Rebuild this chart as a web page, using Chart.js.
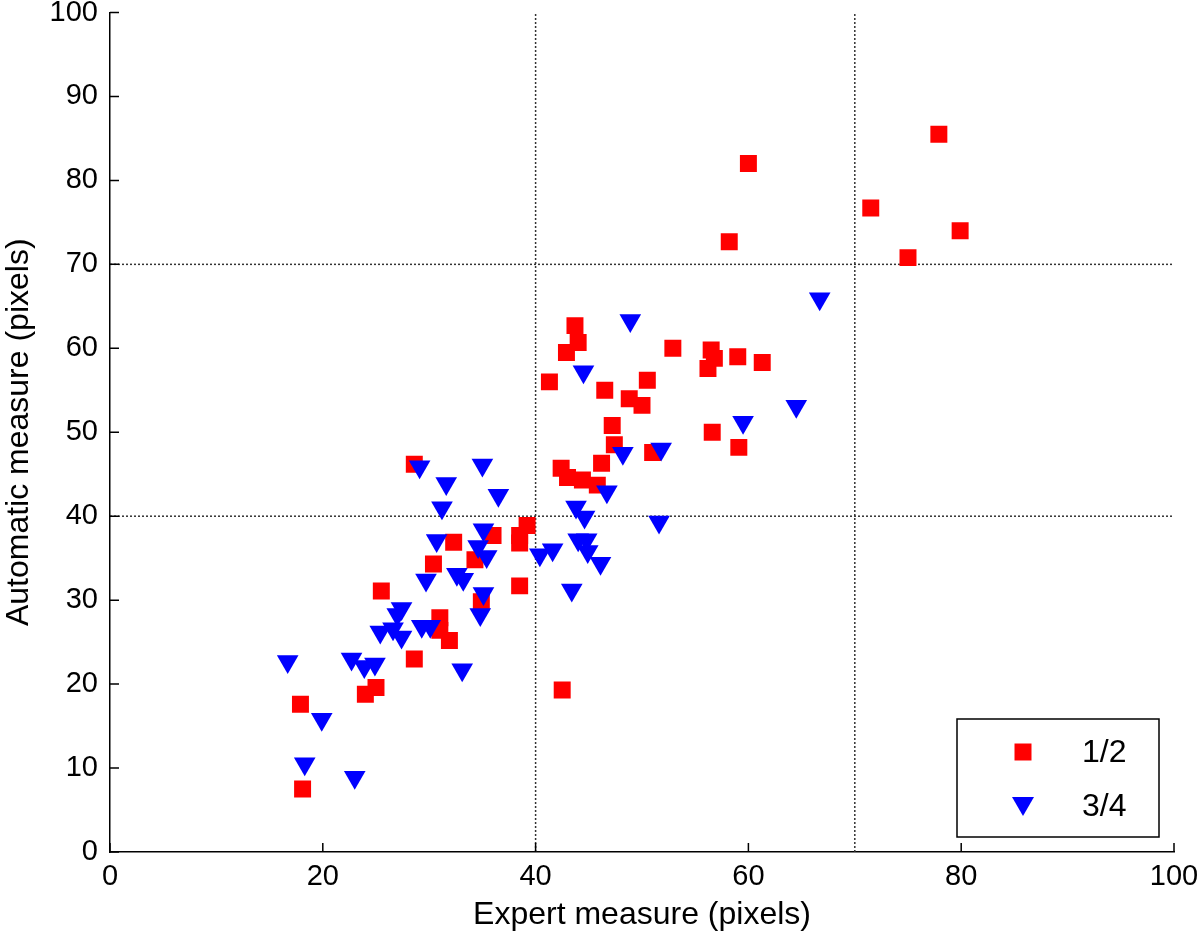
<!DOCTYPE html>
<html>
<head>
<meta charset="utf-8">
<script src="https://cdn.jsdelivr.net/npm/chart.js@4.4.1/dist/chart.umd.min.js"></script>
<style>
  html, body { margin: 0; padding: 0; background: #fff; }
  #wrap { width: 1200px; height: 938px; }
</style>
</head>
<body>
<div id="wrap"><canvas id="ch"></canvas></div>
<script>
// series 1/2 (red squares)
const redX = [17.9, 18.1, 24.0, 25.0, 25.5, 28.6, 28.6, 30.4, 31.0, 31.0, 31.9, 32.3, 34.3, 34.9, 36.0,
  38.5, 38.5, 39.2, 38.5, 42.4, 43.0, 44.4, 45.8, 46.2, 42.5, 43.7, 44.0, 42.9, 41.3, 46.5,
  50.5, 48.8, 50.0, 52.9, 56.5, 56.8, 56.2, 59.0, 61.3, 47.2, 47.4, 51.0, 56.6, 59.1, 60.0,
  58.2, 71.5, 75.0, 77.9, 79.9];
const redY = [17.6, 7.5, 18.8, 19.6, 31.1, 46.2, 23.0, 34.3, 27.9, 26.4, 25.2, 36.9, 34.8, 29.8, 37.7,
  36.8, 37.7, 38.9, 31.7, 45.7, 44.6, 44.3, 43.7, 46.3, 19.3, 62.7, 60.7, 59.5, 56.0, 55.0,
  56.2, 54.0, 53.2, 60.0, 59.8, 58.8, 57.6, 59.0, 58.3, 50.8, 48.5, 47.6, 50.0, 48.2, 82.0,
  72.7, 76.7, 70.8, 85.5, 74.0];

// series 3/4 (blue triangles)
const blueX = [16.7, 18.3, 19.9, 23.0, 22.7, 23.9, 24.9, 25.4, 26.6, 27.0, 27.4, 27.4, 29.3, 30.1, 29.1,
  29.7, 30.7, 31.2, 31.6, 32.6, 33.2, 33.1, 34.6, 35.1, 35.0, 35.4, 35.1, 34.8, 36.5, 40.4,
  41.6, 43.4, 43.8, 44.6, 44.0, 44.8, 44.9, 46.1, 46.7, 44.5, 48.9, 48.2, 51.8, 51.6, 59.5,
  64.5, 66.7];
const blueY = [22.7, 10.5, 15.8, 8.9, 23.0, 22.1, 22.4, 26.2, 26.6, 28.3, 29.0, 25.6, 26.9, 26.9, 45.9,
  32.4, 37.1, 41.0, 43.9, 33.1, 32.5, 21.7, 36.4, 38.4, 46.1, 35.2, 30.8, 28.3, 42.5, 35.4,
  36.0, 31.2, 41.1, 39.9, 37.2, 37.2, 35.8, 34.4, 42.9, 57.2, 63.3, 47.5, 48.0, 39.3, 51.2,
  53.1, 65.9];

const seriesNames = ['1/2', '3/4'];
const refLines = [40, 70];
const xTicks = [0, 20, 40, 60, 80, 100];
const yTicks = [0, 10, 20, 30, 40, 50, 60, 70, 80, 90, 100];

const FONT = 'Arial, "Liberation Sans", sans-serif';

function pts(xs, ys) { return xs.map((x, i) => ({ x: x, y: ys[i] })); }

const refSets = [];
refLines.forEach(v => {
  refSets.push({ data: [{ x: v, y: 0 }, { x: v, y: 100 }] });
  refSets.push({ data: [{ x: 0, y: v }, { x: 100, y: v }] });
});

// inward tick marks like the original plot
const innerTicks = {
  id: 'innerTicks',
  afterDatasetsDraw(chart) {
    const { ctx, scales: { x, y } } = chart;
    ctx.save();
    ctx.strokeStyle = '#000';
    ctx.lineWidth = 1.5;
    ctx.beginPath();
    xTicks.forEach(v => {
      const px = x.getPixelForValue(v);
      ctx.moveTo(px, y.bottom);
      ctx.lineTo(px, y.bottom - 9);
    });
    yTicks.forEach(v => {
      const py = y.getPixelForValue(v);
      ctx.moveTo(x.left, py);
      ctx.lineTo(x.left + 9, py);
    });
    ctx.stroke();
    ctx.restore();
  }
};

// boxed legend in the lower right corner
const boxLegend = {
  id: 'boxLegend',
  afterDraw(chart) {
    const { ctx, chartArea } = chart;
    const w = 202, h = 118;
    const bx = chartArea.right - 15 - w, by = chartArea.bottom - 15 - h;
    ctx.save();
    ctx.fillStyle = '#fff';
    ctx.fillRect(bx, by, w, h);
    ctx.strokeStyle = '#000';
    ctx.lineWidth = 1.5;
    ctx.strokeRect(bx, by, w, h);
    ctx.font = '32px ' + FONT;
    ctx.textBaseline = 'middle';
    ctx.textAlign = 'left';
    const rows = [by + 33, by + 87];
    chart.data.datasets.slice(0, 2).forEach((ds, i) => {
      const cx = bx + 66, cy = rows[i];
      ctx.fillStyle = ds.backgroundColor;
      ctx.beginPath();
      if (ds.pointStyle === 'rect') {
        ctx.rect(cx - 8.5, cy - 8.5, 17, 17);
      } else {
        ctx.moveTo(cx - 11, cy - 9);
        ctx.lineTo(cx + 11, cy - 9);
        ctx.lineTo(cx, cy + 10);
        ctx.closePath();
      }
      ctx.fill();
      ctx.fillStyle = '#000';
      ctx.fillText(seriesNames[i], bx + 125, cy + 1);
    });
    ctx.restore();
  }
};

new Chart(document.getElementById('ch'), {
  type: 'scatter',
  data: {
    datasets: [
      { label: seriesNames[0], data: pts(redX, redY), pointStyle: 'rect', pointRadius: 12,
        backgroundColor: '#ff0000', borderColor: '#ff0000', borderWidth: 0, order: 1 },
      { label: seriesNames[1], data: pts(blueX, blueY), pointStyle: 'triangle', rotation: 180,
        pointRadius: 12.5, backgroundColor: '#0000ff', borderColor: '#0000ff', borderWidth: 0, order: 0 },
      ...refSets.map(r => ({
        label: 'ref', data: r.data, showLine: true, pointRadius: 0, borderColor: '#333',
        borderWidth: 1.5, borderDash: [2, 2], order: 5
      }))
    ]
  },
  options: {
    responsive: true,
    maintainAspectRatio: false,
    animation: false,
    events: [],
    layout: { padding: { left: 0, top: 12, right: 26, bottom: 0 } },
    plugins: { legend: { display: false }, tooltip: { enabled: false } },
    scales: {
      x: {
        type: 'linear', min: 0, max: 100,
        afterFit: s => { s.height = 86; s.paddingLeft = 0; s.paddingRight = 0; },
        afterBuildTicks: s => { s.ticks = xTicks.map(v => ({ value: v })); },
        grid: { drawOnChartArea: false, drawTicks: false },
        border: { display: true, color: '#000', width: 1.5 },
        ticks: { color: '#000', padding: 8, font: { family: FONT, size: 29 } },
        title: { display: true, text: 'Expert measure (pixels)', color: '#000',
          padding: { top: 0, bottom: 4 }, font: { family: FONT, size: 32 } }
      },
      y: {
        type: 'linear', min: 0, max: 100,
        afterFit: s => { s.width = 110; s.paddingTop = 0; s.paddingBottom = 0; },
        afterBuildTicks: s => { s.ticks = yTicks.map(v => ({ value: v })); },
        grid: { drawOnChartArea: false, drawTicks: false },
        border: { display: true, color: '#000', width: 1.5 },
        ticks: { color: '#000', padding: 12, font: { family: FONT, size: 29 } },
        title: { display: true, text: 'Automatic measure (pixels)', color: '#000',
          padding: { top: 0, bottom: 0 }, font: { family: FONT, size: 32 } }
      }
    }
  },
  plugins: [innerTicks, boxLegend]
});
</script>
</body>
</html>
